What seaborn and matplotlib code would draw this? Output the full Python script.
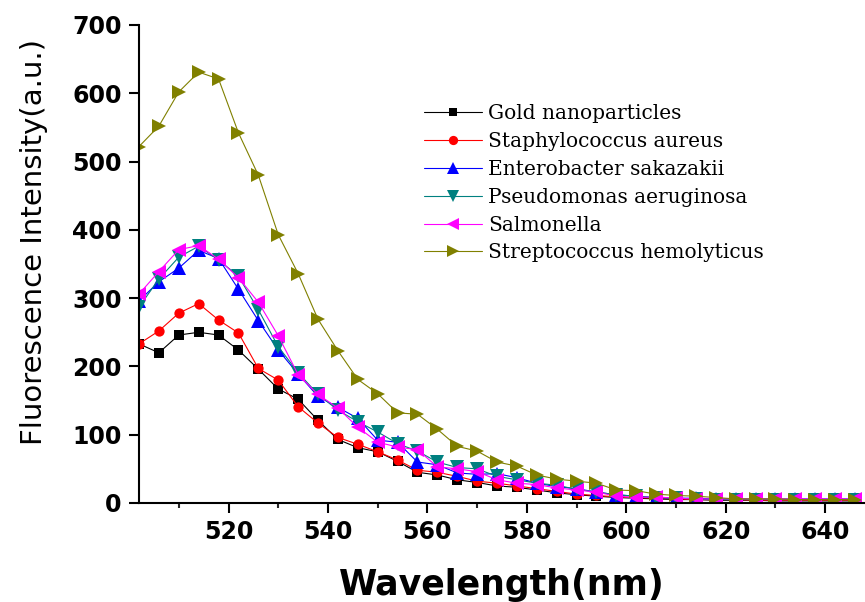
import numpy as np
import pandas as pd
import matplotlib
matplotlib.use("Agg")
import matplotlib.pyplot as plt
import seaborn as sns

# wavelengths (nm), one point every 4 nm
wavelength = list(range(502, 647, 4))

gold = [233, 220, 246, 250, 246, 224, 196, 167, 152, 121,
        93, 81, 75, 61, 45, 41, 34, 30, 25, 23,
        19, 15, 12, 10, 8, 7, 6, 5, 5, 4,
        4, 4, 3, 3, 3, 3, 3]
staph = [233, 252, 278, 292, 268, 249, 197, 180, 141, 117,
         96, 86, 75, 63, 48, 45, 39, 32, 29, 25,
         21, 17, 13, 11, 9, 8, 7, 6, 5, 5,
         5, 4, 4, 4, 4, 4, 4]
entero = [296, 324, 344, 370, 358, 313, 267, 224, 189, 156,
          140, 124, 92, 89, 60, 56, 44, 42, 43, 37,
          29, 24, 21, 16, 12, 10, 8, 7, 7, 6,
          6, 6, 6, 6, 6, 6, 6]
pseudo = [287, 328, 360, 376, 356, 332, 283, 229, 191, 159,
          136, 119, 104, 87, 76, 60, 52, 50, 39, 34,
          29, 26, 20, 16, 12, 10, 8, 7, 6, 5,
          5, 5, 5, 5, 5, 5, 5]
salmon = [306, 339, 371, 377, 357, 330, 294, 245, 188, 159,
          139, 111, 89, 82, 78, 53, 50, 46, 34, 29,
          27, 22, 19, 16, 10, 8, 9, 7, 6, 6,
          6, 6, 6, 6, 6, 6, 6]
strep = [522, 552, 602, 631, 621, 542, 480, 393, 336, 269,
         223, 181, 160, 132, 130, 108, 83, 76, 60, 54,
         41, 35, 32, 29, 19, 18, 13, 11, 10, 8,
         6, 6, 6, 5, 5, 5, 5]

names = ["Gold nanoparticles", "Staphylococcus aureus", "Enterobacter sakazakii",
         "Pseudomonas aeruginosa", "Salmonella", "Streptococcus hemolyticus"]
series = [gold, staph, entero, pseudo, salmon, strep]
colors = ["black", "#FF0000", "#0000FF", "#008080", "#FF00FF", "#808000"]
markers = ["s", "o", "^", "v", "<", ">"]
msizes = [6.8, 7.4, 9.5, 9.5, 9.5, 9.5]

sns.set_style("ticks")
plt.rcParams['font.family'] = ['DejaVu Sans']

fig = plt.figure(figsize=(8.65, 6.02), dpi=100)
ax = fig.add_axes([139 / 865, 1 - 503 / 602, 726 / 865, 478 / 602])

for name, vals, c, m, ms in zip(names, series, colors, markers, msizes):
    df = pd.DataFrame({"Wavelength": wavelength, "Intensity": vals})
    sns.lineplot(data=df, x="Wavelength", y="Intensity", ax=ax, color=c,
                 marker=m, markersize=ms, markeredgecolor=c, markeredgewidth=0,
                 linewidth=0.8, label=name)

ax.set_xlim(502, 648)
ax.set_ylim(0, 700)
ax.set_xticks(np.arange(520, 641, 20))
ax.set_xticks(np.arange(510, 648, 10), minor=True)
ax.set_yticks(np.arange(0, 701, 100))

sns.despine(ax=ax, top=True, right=True)
for s in ["left", "bottom"]:
    ax.spines[s].set_linewidth(1.5)
    ax.spines[s].set_color("black")

ax.tick_params(axis="both", which="major", direction="out", length=7.5, width=1.5,
               pad=5, labelsize=17, colors="black")
ax.tick_params(axis="x", which="minor", direction="out", length=3.8, width=1.5)
for lab in ax.get_xticklabels() + ax.get_yticklabels():
    lab.set_fontweight("bold")

ax.set_xlabel("Wavelength(nm)", fontsize=25, fontweight="bold", labelpad=17, color="black")
ax.set_ylabel("Fluorescence Intensity(a.u.)", fontsize=21, color="black")
ax.yaxis.set_label_coords(-0.125, 0.546)

leg = ax.legend(loc="upper left", bbox_to_anchor=(0.3926, 0.8345), frameon=False,
                prop={"family": "DejaVu Serif", "size": 14.5}, labelcolor="black",
                handlelength=2.9, handletextpad=0.3, labelspacing=0.44,
                borderpad=0, borderaxespad=0, markerscale=0.9)
for line in leg.get_lines():
    line.set_linewidth(0.8)

fig.savefig("out.png", dpi=100)
